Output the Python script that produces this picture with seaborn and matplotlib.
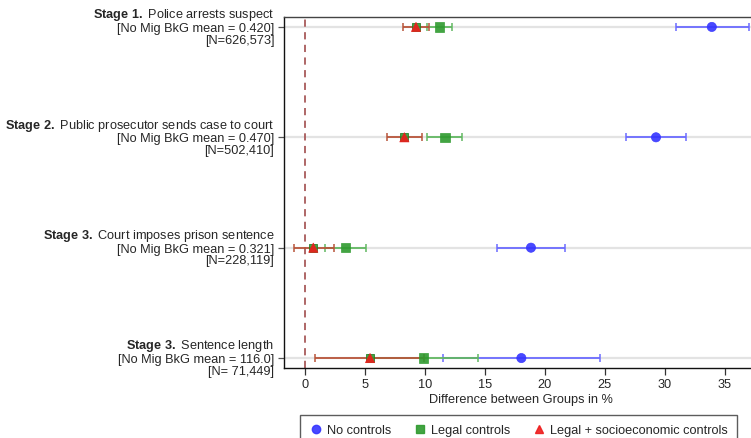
import numpy as np
import pandas as pd
import matplotlib
matplotlib.use("Agg")
import matplotlib.pyplot as plt
import seaborn as sns
from matplotlib.lines import Line2D

# ---- data ----
stages = [
    "$\\bf{Stage\\ 1.}$ Police arrests suspect\n[No Mig BkG mean = 0.420]\n[N=626,573]",
    "$\\bf{Stage\\ 2.}$ Public prosecutor sends case to court\n[No Mig BkG mean = 0.470]\n[N=502,410]",
    "$\\bf{Stage\\ 3.}$ Court imposes prison sentence\n[No Mig BkG mean = 0.321]\n[N=228,119]",
    "$\\bf{Stage\\ 3.}$ Sentence length\n[No Mig BkG mean = 116.0]\n[N= 71,449]",
]
series_names = ["No controls", "Legal controls", "Legal + socioeconomic controls"]

no_ctrl_est = [33.9, 29.25, 18.83, 18.03]
no_ctrl_lo = [30.9, 26.75, 16.0, 11.47]
no_ctrl_hi = [37.0, 31.75, 21.7, 24.58]

legal_est = [11.2, 11.67, 3.36, 9.86]
legal_lo = [10.2, 10.2, 1.67, 5.3]
legal_hi = [12.25, 13.1, 5.06, 14.4]

socio_est = [9.25, 8.28, 0.69, 5.42]
socio_lo = [8.17, 6.86, -0.92, 0.83]
socio_hi = [10.3, 9.78, 2.39, 9.9]

xticks = [0, 5, 10, 15, 20, 25, 30, 35]

# ---- style ----
sns.set_theme(style="white")
plt.rcParams["font.family"] = ["Liberation Sans", "DejaVu Sans"]
plt.rcParams["mathtext.fontset"] = "custom"
plt.rcParams["mathtext.rm"] = "Liberation Sans"
plt.rcParams["mathtext.bf"] = "Liberation Sans:bold"
plt.rcParams["mathtext.it"] = "Liberation Sans:italic"

FS = 9.2
fig = plt.figure(figsize=(7.51, 4.38), dpi=100)
ax = fig.add_axes([284 / 751, 1 - 368 / 438, (758 - 284) / 751, (368 - 17) / 438])

ypos = np.arange(len(stages))
df = pd.DataFrame({
    "y": np.concatenate([ypos] * 3),
    "est": no_ctrl_est + legal_est + socio_est,
    "lo": no_ctrl_lo + legal_lo + socio_lo,
    "hi": no_ctrl_hi + legal_hi + socio_hi,
    "series": np.repeat(series_names, len(stages)),
})

for y in ypos:
    ax.axhline(y, color="#e3e3e3", lw=1.6, zorder=0)
ax.axvline(0, color="#a85a5a", lw=1.3, ls=(0, (4, 3)), zorder=1)

marker_cols = {"No controls": "#3535ff", "Legal controls": "#2e9a2e",
               "Legal + socioeconomic controls": "#ee1c1c"}
line_cols = {"No controls": "#6b6bff", "Legal controls": "#62b862",
             "Legal + socioeconomic controls": "#b8553a"}
markers = {"No controls": "o", "Legal controls": "s",
           "Legal + socioeconomic controls": "^"}

for name in series_names:
    sub = df[df.series == name]
    ax.errorbar(sub["est"], sub["y"],
                xerr=[sub["est"] - sub["lo"], sub["hi"] - sub["est"]],
                fmt="none", ecolor=line_cols[name], elinewidth=1.3,
                capsize=3.2, capthick=1.1, zorder=2)

# green squares under triangles (as in the original)
sub3 = df[df.series == series_names[2]]
ax.scatter(sub3["est"], sub3["y"], marker="s", s=36, color="#2e9a2e",
           edgecolor="#1f7a1f", linewidth=0.6, alpha=0.9, zorder=3)

sns.scatterplot(data=df, x="est", y="y", hue="series", style="series",
                palette=marker_cols, markers=markers, hue_order=series_names,
                style_order=series_names, s=44, alpha=0.9, linewidth=0.5,
                edgecolor=None, ax=ax, zorder=4, legend=False)

ax.set_xlim(-1.75, 37.75)
ax.set_ylim(3.09, -0.09)
ax.set_xticks(xticks)
ax.set_xticklabels([str(t) for t in xticks], fontsize=FS)
ax.set_yticks(ypos)
ax.set_yticklabels(stages, fontsize=FS, ha="right", va="center")
for lbl in ax.get_yticklabels():
    lbl.set_linespacing(0.97)
ax.set_ylabel("")
ax.set_xlabel("Difference between Groups in %", fontsize=FS, labelpad=2)

ax.tick_params(axis="x", which="both", direction="out", length=5, width=0.9,
               color="#333333", pad=3, bottom=True)
ax.tick_params(axis="y", which="both", direction="out", length=4, width=0.9,
               color="#555555", pad=3, left=True)
for side in ["left", "bottom", "top", "right"]:
    ax.spines[side].set_color("#111111")
    ax.spines[side].set_linewidth(1.0)
ax.spines["top"].set_color("#444444")

# legend
handles = [Line2D([], [], ls="none", marker=markers[n], color=marker_cols[n],
                  markersize=6, alpha=0.9) for n in series_names]
leg = fig.legend(handles, series_names, loc="upper left", ncol=3,
                 bbox_to_anchor=(300 / 751, 1 - 415 / 438),
                 bbox_transform=fig.transFigure,
                 fontsize=FS, frameon=True, fancybox=False, handletextpad=0.35,
                 handlelength=1.0, borderpad=0.75, borderaxespad=0,
                 columnspacing=1.75)
leg.get_frame().set_edgecolor("#333333")
leg.get_frame().set_linewidth(1.0)

fig.savefig("out.png", dpi=100)
